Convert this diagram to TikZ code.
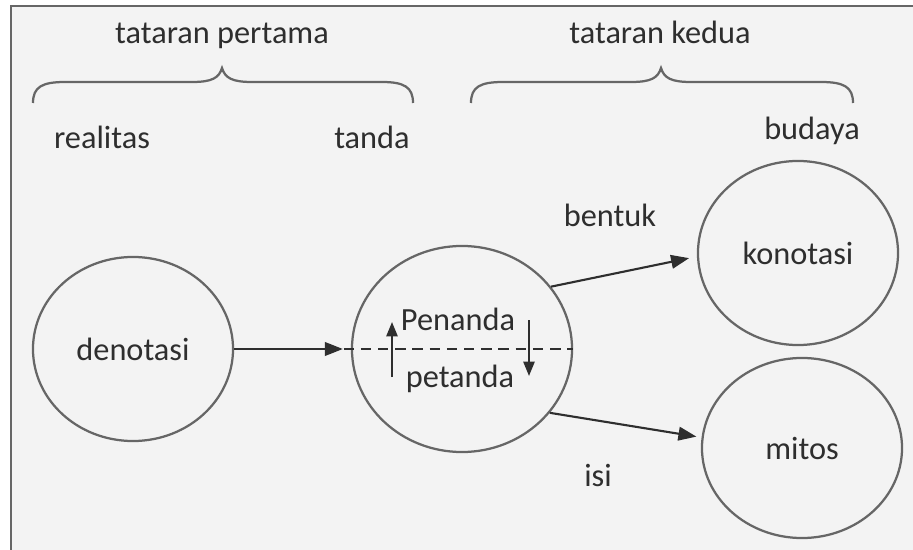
\documentclass[tikz,border=0pt]{standalone}
\usepackage{fontspec}
\setmainfont{Carlito}
\usetikzlibrary{arrows.meta,shapes.geometric,positioning}
\definecolor{ink}{HTML}{2E2E2E}
\definecolor{rim}{HTML}{666666}
\definecolor{paper}{HTML}{F3F3F3}
\tikzset{>/.tip={Triangle[length=0.45cm,width=0.34cm]}}
\tikzset{small/.tip={Triangle[length=0.36cm,width=0.28cm]}}
\tikzset{
  bubble/.style={ellipse,draw=rim,line width=1.6pt,inner sep=0pt,minimum width=5cm,minimum height=4.6cm},
  lbl/.style={anchor=base,inner sep=0pt},
  link/.style={->,draw=ink,line width=1.5pt},
  brace/.style={draw=rim,line width=1.6pt},
}

\begin{document}
\begin{tikzpicture}[x=0.025cm,y=-0.025cm,font=\fontsize{23}{27}\selectfont,text=ink]
        \useasboundingbox (0,0) rectangle (913,550);
        \fill[white] (0,0) rectangle (913,550);
        \fill[paper] (11,6) rectangle (913,550);
        \draw[rim,line width=2pt] (11,550) -- (11,6) -- (913,6);
        % headings and braces
        \node(first)[lbl] at (222,44){tataran pertama};
        \node(second)[lbl] at (660,44){tataran kedua};
        \draw[brace] (33,103) .. controls (33,87) and (42,82) .. (65,82) -- (192,82)
          .. controls (212,82) and (219,78) .. (222,68)
          .. controls (225,78) and (232,82) .. (252,82) -- (382,82)
          .. controls (404,82) and (413,87) .. (413,103);
        \draw[brace] (471,103) .. controls (471,87) and (480,82) .. (503,82) -- (631,82)
          .. controls (651,82) and (658,78) .. (661,68)
          .. controls (664,78) and (671,82) .. (691,82) -- (821,82)
          .. controls (844,82) and (853,87) .. (853,103);
        \node(realitas)[lbl] at (102,149){realitas};
        \node(tandaLbl)[lbl] at (372,149){tanda};
        \node(budaya)[lbl] at (812,140){budaya};
        % circles
        \node(denotasi)[bubble] at (133,349){denotasi};
        \node(tanda)[bubble,minimum width=5.5cm,minimum height=5.15cm] at (462,349){};
        \node(konotasi)[bubble] at (798,253){konotasi};
        \node(mitos)[bubble,minimum height=4.5cm] at (802,448){mitos};
        % sign inside
        \node(penanda)[lbl] at (458,330){Penanda};
        \node(petanda)[lbl] at (460,387){petanda};
        \draw[ink,line width=1.5pt,dash pattern=on 0.26cm off 0.17cm]
          ([xshift=-0.18cm]tanda.west) -- (tanda.east);
        \coordinate(upFrom) at (392,377);
        \coordinate(upTo) at (392,322);
        \coordinate(downFrom) at (529,320);
        \coordinate(downTo) at (529,376);
        \draw[-small,ink,line width=1.5pt] (upFrom) -- (upTo);
        \draw[-small,ink,line width=1.5pt] (downFrom) -- (downTo);
        % connectors
        \draw[link,shorten >=0.2cm] (denotasi) -- (tanda);
        \draw[link,shorten >=0.2cm] (tanda.35.8) -- (konotasi.182.6);
        \draw[link,shorten >=0.13cm] (tanda.-36.8) -- (mitos.174.5);
        \node(bentuk)[lbl] at (610,227){bentuk};
        \node(isi)[lbl] at (598,486){isi};
      \end{tikzpicture}
\end{document}
